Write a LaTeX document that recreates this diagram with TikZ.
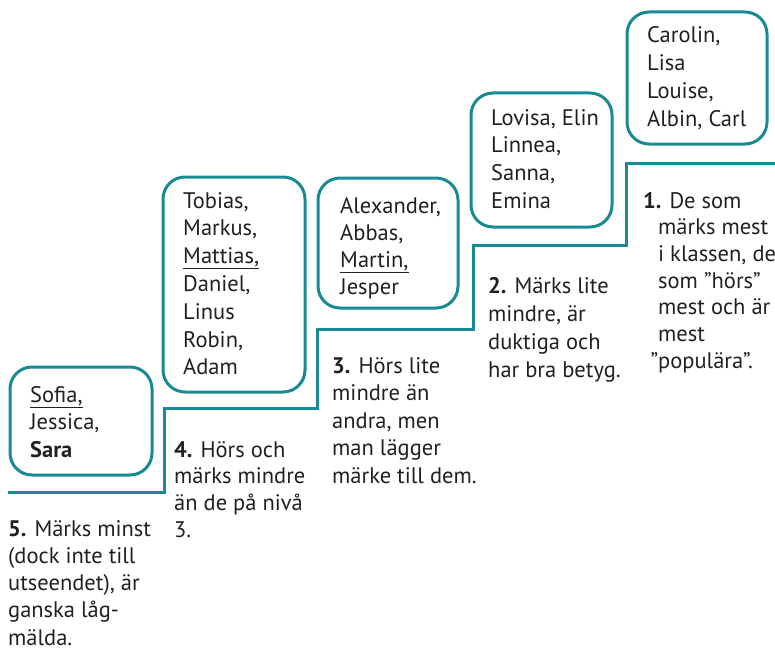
\documentclass[tikz,border=0pt]{standalone}
\usepackage{fontspec}
\setmainfont{PT Sans}
\definecolor{teal}{RGB}{25,138,148}
\definecolor{ink}{RGB}{35,31,32}
\newcommand{\names}[2][27.5]{\fontsize{22.5}{#1}\selectfont\begin{tabular}[t]{@{}l@{}}#2\end{tabular}}
\begin{document}
\begin{tikzpicture}[x=1pt,y=-1pt,
  namebox/.style={draw=teal,line width=3pt,rounded corners=22pt,rectangle,inner sep=0pt},
  txt/.style={anchor=base west,inner sep=0pt,text=ink}]
\useasboundingbox (0,0) rectangle (775,650);
% staircase
\draw[teal,line width=3pt] (8,492) -- (164,492) -- (164,408) -- (317,408) -- (317,329) -- (473,329) -- (473,245) -- (626,245) -- (626,163) -- (775,163);
% boxes
\node[namebox,minimum width=142pt,minimum height=108pt] (box5) at (81,421) {};
\node[namebox,minimum width=142pt,minimum height=215pt] (box4) at (234,284.5) {};
\node[namebox,minimum width=140pt,minimum height=130pt] (box3) at (388,243) {};
\node[namebox,minimum width=141pt,minimum height=134pt] (box2) at (541.5,160) {};
\node[namebox,minimum width=140pt,minimum height=132pt] (box1) at (697,78) {};
% names
\node[txt] (n5) at (30,402) {\names{\underline{Sofia,}\\Jessica,\\\textbf{Sara}}};
\node[txt] (n4) at (183,208) {\names[27.8]{Tobias,\\Markus,\\\underline{Mattias,}\\Daniel,\\Linus\\Robin,\\Adam}};
\node[txt] (n3) at (340,213) {\names[27.3]{Alexander,\\Abbas,\\\underline{Martin,}\\Jesper}};
\node[txt] (n2) at (491,125) {\names[27.7]{Lovisa, Elin\\Linnea,\\Sanna,\\Emina}};
\node[txt] (n1) at (647,43) {\names[28]{Carolin,\\Lisa\\Louise,\\Albin, Carl}};
% descriptions
\node[txt] (d5) at (8,536) {\names[27.3]{\textbf{5.} Märks minst\\(dock inte till\\utseendet), är\\ganska låg-\\mälda.}};
\node[txt] (d4) at (174,457) {\names[26.7]{\textbf{4.} Hörs och\\märks mindre\\än de på nivå\\3.}};
\node[txt] (d3) at (332,373) {\names{\textbf{3.} Hörs lite\\mindre än\\andra, men\\man lägger\\märke till dem.}};
\node[txt] (d2) at (488,293) {\names[28]{\textbf{2.} Märks lite\\mindre, är\\duktiga och\\har bra betyg.}};
\node[txt] (d1) at (658,208) {\names[26.7]{\hspace*{-15pt}\textbf{1.} De som\\märks mest\\i klassen, de\\som ”hörs”\\mest och är\\mest\\\llap{”}populära”.}};
\end{tikzpicture}
\end{document}
